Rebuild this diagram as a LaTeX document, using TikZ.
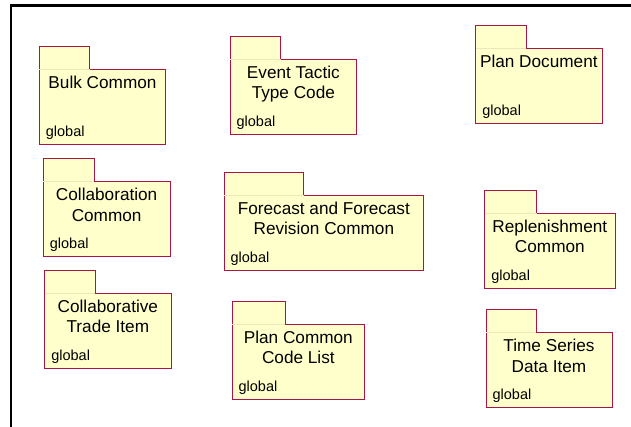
\documentclass[tikz,border=0pt]{standalone}
\usepackage{fontspec}
\setmainfont{Liberation Sans}
\definecolor{pkgred}{RGB}{170,20,70}
\definecolor{pkgfill}{RGB}{255,255,204}
\definecolor{pkgseam}{RGB}{236,230,186}

% package: name, x, y (top of body), width, title
\newcommand{\umlpkg}[5]{%
  \node[pkgbody, minimum width=#4] (#1) at (#2,#3) {};
  \draw[pkgline] (#1.south west) -- ([yshift=23pt]#1.north west) -- ++({0.4*#4pt},0pt)
    -- ([xshift={0.4*#4pt}]#1.north west) -- (#1.north east) -- (#1.south east) -- cycle;
  \draw[pkgseam] (#1.north west) -- ++({0.4*#4pt},0pt);
  \node[pkgtitle] (#1-title) at ([yshift=-6.4pt]#1.north) {#5};
  \node[pkgscope] (#1-scope) at ([xshift=6.4pt,yshift=7.8pt]#1.south west) {global};
}

\begin{document}
\begin{tikzpicture}[x=1pt, y=-1pt,
    pkgbody/.style={inner sep=0, outer sep=0, minimum height=75pt, anchor=north west},
    pkgline/.style={draw=pkgred, fill=pkgfill, line width=0.9pt},
    pkgseam/.style={draw=pkgseam, line width=0.8pt},
    pkgtitle/.style={anchor=north, inner sep=0, align=center, font=\fontsize{17.2}{20.5}\selectfont},
    pkgscope/.style={anchor=base west, inner sep=0, font=\fontsize{14.5}{17}\selectfont}]
  \useasboundingbox (0,0) rectangle (631,427);

  % --- frame ---
  \draw[line width=2.4pt] (11,427) -- (11,5.7) -- (631,5.7);

  % --- left column ---
  \umlpkg{bulk}{39.3}{69}{126.4}{Bulk Common}
  \umlpkg{collab}{43.3}{181.7}{126.7}{Collaboration\\Common}
  \umlpkg{trade}{44.7}{293.3}{126.3}{Collaborative\\Trade Item}

  % --- middle column ---
  \umlpkg{tactic}{230}{59.3}{126.7}{Event Tactic\\Type Code}
  \umlpkg{forecast}{224}{195}{199.7}{Forecast and Forecast\\Revision Common}
  \umlpkg{codes}{232}{324.3}{132.7}{Plan Common\\Code List}

  % --- right column ---
  \umlpkg{plandoc}{475.7}{48.7}{126.3}{Plan Document}
  \umlpkg{replen}{484.7}{213.3}{130.3}{Replenishment\\Common}
  \umlpkg{series}{486}{332.7}{126}{Time Series\\Data Item}
\end{tikzpicture}
\end{document}
